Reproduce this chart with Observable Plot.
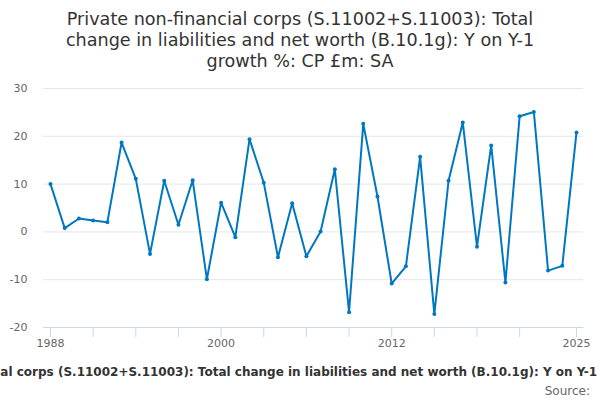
<!DOCTYPE html>
<html><head><meta charset="utf-8">
<script src="https://cdn.jsdelivr.net/npm/d3@7"></script>
<script src="https://cdn.jsdelivr.net/npm/@observablehq/plot@0.6"></script>
<style>
body{margin:0;background:#fff;font-family:"DejaVu Sans",sans-serif;}
#wrap{width:600px;height:400px;overflow:hidden;position:relative;}
#title{box-sizing:border-box;height:80px;padding-top:9px;text-align:center;font-size:17.6px;line-height:21px;color:#333;}
#legend{width:600px;height:20px;margin-top:12px;display:flex;justify-content:center;overflow:hidden;white-space:nowrap;font-weight:bold;font-size:12px;line-height:20px;color:#333;}
#legend span{padding-left:16px;}
#source{width:590px;text-align:right;font-size:12px;color:#666;line-height:16px;margin-top:1px;}
</style></head>
<body><div id="wrap">
<div id="title">Private non-financial corps (S.11002+S.11003): Total<br>change in liabilities and net worth (B.10.1g): Y on Y-1<br>growth %: CP £m: SA</div>
<div id="chart"></div>
<div id="legend"><span>Private non-financial corps (S.11002+S.11003): Total change in liabilities and net worth (B.10.1g): Y on Y-1 growth %: CP £m: SA</span></div>
<div id="source">Source:</div>
</div>
<script>
const years = [1988,1989,1990,1991,1992,1993,1994,1995,1996,1997,1998,1999,2000,2001,2002,2003,2004,2005,2006,2007,2008,2009,2010,2011,2012,2013,2014,2015,2016,2017,2018,2019,2020,2021,2022,2023,2024,2025];
const growth = [10.0,0.8,2.8,2.4,2.0,18.7,11.1,-4.6,10.7,1.5,10.8,-9.9,6.1,-1.1,19.4,10.3,-5.3,6.0,-5.1,0.1,13.1,-16.8,22.6,7.4,-10.8,-7.2,15.7,-17.2,10.7,22.9,-3.1,18.1,-10.6,24.2,25.1,-8.1,-7.1,20.8];
const yTicks = [-20,-10,0,10,20,30];
const xTicks = [1988,1991,1994,1997,2000,2003,2006,2009,2012,2015,2018,2021,2025];
const xLabels = [1988,2000,2012,2025];
const data = years.map((y,i)=>({year:y, value:growth[i]}));
const color = "#0077c0";
const chart = Plot.plot({
  width:600, height:270,
  marginLeft:50, marginRight:24, marginTop:8, marginBottom:23,
  style:{fontFamily:"DejaVu Sans, sans-serif", fontSize:"11px", color:"#666", background:"#fff"},
  x:{domain:[1988,2025]},
  y:{domain:[-20,30]},
  marks:[
    Plot.gridY(yTicks.filter(d=>d>-20),{stroke:"#e6e6e6", strokeOpacity:1, insetLeft:-7, insetRight:-7}),
    Plot.ruleY([-20],{stroke:"#ccd6eb", insetLeft:-7, insetRight:-7}),
    Plot.axisY({ticks:yTicks, tickSize:0, tickPadding:23, label:null, fill:"#666", tickFormat:d=>String(d)}),
    Plot.axisX({ticks:xTicks, tickSize:10, stroke:"#ccd6eb", strokeOpacity:1, tickFormat:()=>"", label:null}),
    Plot.axisX({ticks:xLabels, tickSize:0, tickPadding:12, tickFormat:d=>String(d), fill:"#666", label:null}),
    Plot.line(data,{x:"year", y:"value", stroke:color, strokeWidth:2}),
    Plot.dot(data,{x:"year", y:"value", fill:color, r:2})
  ]
});
document.getElementById("chart").appendChild(chart);
</script>
</body></html>
